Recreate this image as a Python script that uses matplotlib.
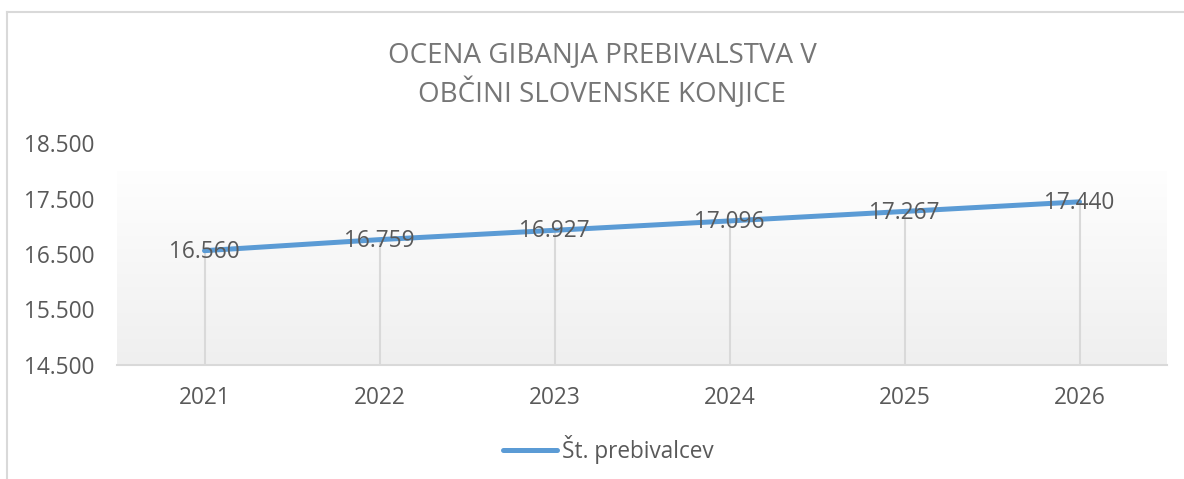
import matplotlib
matplotlib.use("Agg")
import matplotlib.pyplot as plt
import numpy as np
from matplotlib.lines import Line2D
from matplotlib.ticker import FuncFormatter

years = ["2021", "2022", "2023", "2024", "2025", "2026"]
population = [16560, 16759, 16927, 17096, 17267, 17440]
series_name = "Št. prebivalcev"
title = "OCENA GIBANJA PREBIVALSTVA V\nOBČINI SLOVENSKE KONJICE"
y_ticks = [14500, 15500, 16500, 17500, 18500]

FONT = "Open Sans"
TXT = "#595959"
LINE = "#5b9bd5"
GRID = "#d9d9d9"

def fmt(v):
    return f"{v:,.0f}".replace(",", ".")

fig = plt.figure(figsize=(11.84, 4.79), dpi=100)
fig.patch.set_facecolor("white")

# chart border (top and left visible)
fig.add_artist(Line2D([7/1184, 7/1184], [1 - 12/479, 0], color=GRID, lw=1.5, transform=fig.transFigure))
fig.add_artist(Line2D([7/1184, 1.0], [1 - 12/479, 1 - 12/479], color=GRID, lw=1.5, transform=fig.transFigure))

ax = fig.add_axes([117/1184, 1 - 365/479, 1050/1184, 222/479])
x = np.arange(len(years))

# gradient plot area fill
grad = np.linspace(0, 1, 256).reshape(-1, 1)
c_top = np.array([0xfe, 0xfe, 0xfe]) / 255
c_bot = np.array([0xef, 0xef, 0xef]) / 255
img = c_top[None, None, :] * (1 - grad[:, :, None]) + c_bot[None, None, :] * grad[:, :, None]
ax.imshow(img, extent=[-0.5, len(years) - 0.5, 14500, 17980], aspect="auto", origin="upper", zorder=0)
ax.set_ylim(y_ticks[0], y_ticks[-1])
ax.set_xlim(-0.5, len(years) - 0.5)

# drop lines
ax.vlines(x, y_ticks[0], population, colors=GRID, lw=1.5, zorder=1)

ax.plot(x, population, color=LINE, lw=3.6, solid_capstyle="round", zorder=3, label=series_name)

for xi, v in zip(x, population):
    ax.text(xi, v - 20, fmt(v), ha="center", va="center", fontsize=16.3, color=TXT,
            family=FONT, zorder=4)

for s in ["top", "right", "left"]:
    ax.spines[s].set_visible(False)
ax.spines["bottom"].set_color(GRID)
ax.spines["bottom"].set_linewidth(1.5)

ax.set_xticks(x)
ax.set_xticklabels(years)
ax.set_yticks(y_ticks)
ax.yaxis.set_major_formatter(FuncFormatter(lambda v, p: fmt(v)))
ax.tick_params(axis="both", length=0, labelsize=16.3, labelcolor=TXT)
ax.tick_params(axis="y", pad=16)
ax.tick_params(axis="x", pad=15)
for lab in ax.get_xticklabels() + ax.get_yticklabels():
    lab.set_family(FONT)

fig.text(602/1184, 1 - 75/479, title, ha="center", va="center", fontsize=20,
         color="#767676", family=FONT, linespacing=1.38)

leg = fig.legend(handles=[Line2D([0], [0], color=LINE, lw=3.6, solid_capstyle="round")],
                 labels=[series_name], loc="center", bbox_to_anchor=(608/1184, 1 - 449/479),
                 frameon=False, prop={"family": FONT, "size": 16.3}, handlelength=2.4,
                 handletextpad=0.2)
for t in leg.get_texts():
    t.set_color(TXT)

fig.savefig("out.png", dpi=100, facecolor="white")
